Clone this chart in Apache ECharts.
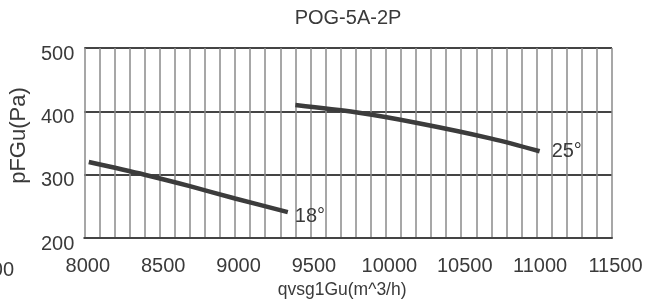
<!DOCTYPE html>
<html>
<head>
<meta charset="utf-8">
<script src="https://cdn.jsdelivr.net/npm/echarts@6/dist/echarts.min.js"></script>
<style>
  html, body { margin: 0; padding: 0; background: #fff; }
  #chart { width: 661px; height: 304px; }
</style>
</head>
<body>
<div id="chart"></div>
<script>
// Curve data: [airflow m^3/h, pressure Pa]
const curve18 = [[8030, 320], [8400, 300], [8700, 282], [9000, 262.5], [9350, 241]];
const curve25 = [[9400, 410], [9800, 398.5], [10200, 382], [10700, 357], [11020, 337]];
const curveLabels = ['18°', '25°'];

const xMin = 8000, xMax = 11500, xStep = 500;
const yMin = 200, yMax = 500, yStep = 100;

const FONT = "'Liberation Sans', Arial, sans-serif";
const TEXT = '#3a3a3a';

const chart = echarts.init(document.getElementById('chart'));

function curveSeries(data, label, labelOffset, labelDist) {
    return {
        type: 'line',
        data: data,
        smooth: 0.3,
        symbol: 'none',
        lineStyle: { color: '#3c3c3c', width: 4.5, cap: 'butt' },
        endLabel: {
            show: true,
            formatter: label,
            distance: labelDist,
            offset: labelOffset,
            fontFamily: FONT,
            fontSize: 20,
            color: TEXT
        }
    };
}

chart.setOption({
    animation: false,
    backgroundColor: '#fff',
    grid: { left: 84, right: 49, top: 48, bottom: 59 },
    graphic: [
        {
            type: 'text',
            x: 348, y: 18,
            style: {
                text: 'POG-5A-2P',
                font: '20px ' + FONT,
                fill: TEXT,
                textAlign: 'center',
                textVerticalAlign: 'middle'
            }
        },
        {
            // clipped tick label at the left edge of the original
            type: 'text',
            x: 14, y: 270,
            style: {
                text: '7500',
                font: '20px ' + FONT,
                fill: TEXT,
                textAlign: 'right',
                textVerticalAlign: 'middle'
            }
        }
    ],
    xAxis: {
        type: 'value',
        min: xMin,
        max: xMax,
        interval: xStep,
        name: 'qvsg1Gu(m^3/h)',
        nameLocation: 'middle',
        nameGap: 36,
        nameTextStyle: { fontFamily: FONT, fontSize: 17.5, color: TEXT, padding: [0, 12, 0, 0] },
        axisLine: { show: true, lineStyle: { color: '#444', width: 2 } },
        axisTick: { show: false },
        axisLabel: {
            margin: 18,
            fontFamily: FONT,
            fontSize: 20,
            color: TEXT,
            padding: [0, 0, 0, 7],
            formatter: v => String(v)
        },
        splitLine: { show: true, lineStyle: { color: '#8a8a8a', width: 1.5 } },
        minorTick: { show: false, splitNumber: 5 },
        minorSplitLine: { show: true, lineStyle: { color: '#8a8a8a', width: 1.5 } }
    },
    yAxis: {
        type: 'value',
        min: yMin,
        max: yMax,
        interval: yStep,
        name: 'pFGu(Pa)',
        nameLocation: 'middle',
        nameGap: 47,
        nameTextStyle: { fontFamily: FONT, fontSize: 22, color: TEXT, padding: [0, 0, 0, 15] },
        axisLine: { show: false },
        axisTick: { show: false },
        axisLabel: {
            margin: 10,
            fontFamily: FONT,
            fontSize: 20,
            color: TEXT,
            verticalAlign: 'top',
            lineHeight: 12
        },
        splitLine: { show: true, lineStyle: { color: '#444', width: 2 } }
    },
    series: [
        curveSeries(curve18, curveLabels[0], [0, 4], 7),
        curveSeries(curve25, curveLabels[1], [0, 0], 12)
    ]
});
</script>
</body>
</html>
